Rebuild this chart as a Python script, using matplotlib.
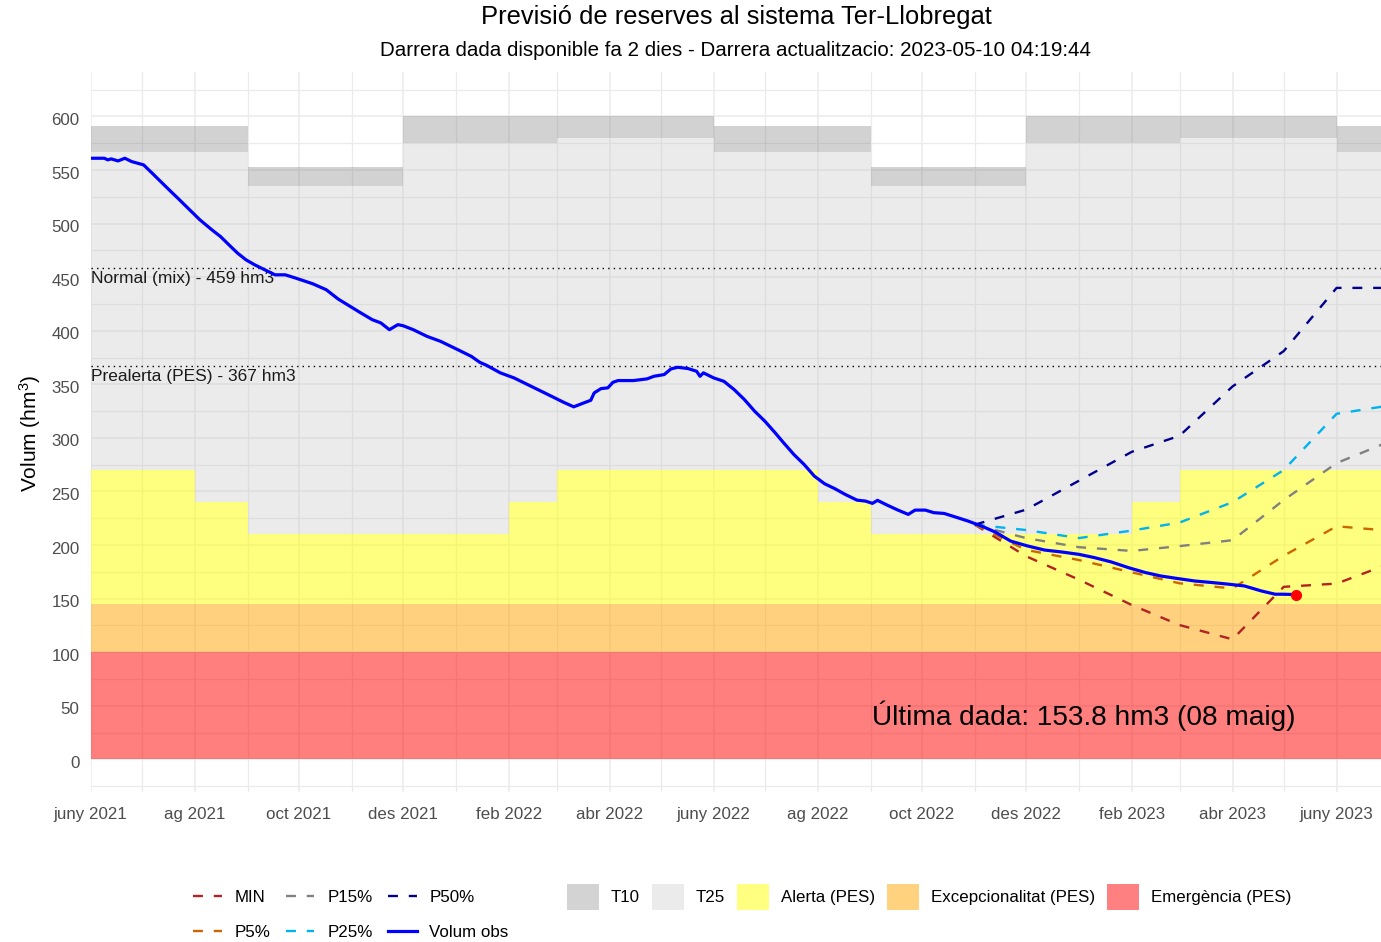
"""Previsio de reserves al sistema Ter-Llobregat (reproduccio del grafic)."""

import numpy as np
import pandas as pd
import matplotlib
matplotlib.use('Agg')
import matplotlib.pyplot as plt
from matplotlib.patches import Patch
from matplotlib.lines import Line2D
from matplotlib.ticker import MultipleLocator
from matplotlib.transforms import ScaledTranslation

plt.rcParams['font.family'] = ['Liberation Sans', 'DejaVu Sans']
plt.rcParams['mathtext.fontset'] = 'custom'
plt.rcParams['mathtext.rm'] = 'Liberation Sans'
plt.rcParams['mathtext.it'] = 'Liberation Sans'

# Observed volume (days since 2021-06-01, hm3)
obs_start = pd.Timestamp('2021-06-01')
obs_day = [0, 8, 10, 12, 16, 20, 24, 31, 36, 42, 47, 51, 57, 64, 71, 76, 81, 86, 91, 96,
           102, 108, 114, 120, 130, 138, 145, 158, 165, 170, 175, 180, 183, 189, 197, 205,
           215, 223, 228, 232, 240, 248, 258, 268, 277, 283, 289, 293, 295, 299, 303, 306,
           309, 318, 326, 330, 336, 340, 344, 350, 355, 357, 359, 365, 371, 377, 383, 389,
           395, 401, 406, 412, 418, 424, 430, 436, 442, 449, 454, 458, 461, 467, 473, 479,
           483, 489, 494, 500, 506, 514, 522, 530, 539, 549, 559, 569, 579, 588, 598, 608,
           618, 627, 637, 647, 657, 667, 676, 686, 694, 698, 706]
obs_val = [561.0, 561.0, 559.5, 560.4, 558.5, 561.0, 557.9, 554.8, 547.1, 537.7, 529.9, 523.8,
           514.4, 503.5, 494.2, 488.0, 480.2, 472.5, 466.2, 461.6, 456.9, 452.2, 452.2, 449.2,
           443.9, 438.3, 429.6, 416.9, 410.3, 407.3, 401.0, 405.7, 404.7, 401.0, 394.8, 390.1,
           382.4, 376.1, 370.5, 367.7, 360.7, 356.0, 348.2, 340.4, 333.3, 329.0, 332.7, 335.1,
           342.0, 346.0, 346.7, 351.9, 353.5, 353.5, 355.1, 357.5, 359.1, 364.4, 365.9, 364.7,
           362.2, 357.5, 360.7, 356.0, 352.8, 345.1, 335.8, 324.9, 315.6, 304.8, 295.4, 284.5,
           275.2, 264.3, 257.2, 252.6, 247.3, 241.9, 241.0, 238.9, 241.7, 237.0, 232.6, 228.6,
           232.6, 232.6, 230.2, 229.5, 226.5, 222.4, 217.7, 212.1, 203.7, 199.1, 195.3, 193.5,
           191.3, 188.3, 184.2, 178.9, 174.3, 171.1, 168.7, 166.4, 165.0, 163.4, 161.8, 157.1,
           154.1, 154.1, 153.8]

# Forecast scenarios
fc_dates = ['2022-11-01', '2022-12-01', '2023-01-01', '2023-02-01', '2023-03-01',
            '2023-04-01', '2023-05-01', '2023-06-01', '2023-07-01']
fc_min = [219, 189.6, 167.7, 144, 125.3, 112, 161, 164, 182]
fc_p5 = [219, 195.5, 186, 174.5, 164.3, 159.5, 190, 217.5, 213.5]
fc_p15 = [219, 206.5, 198, 194.5, 199, 204.5, 242, 276.5, 296]
fc_p25 = [219, 214, 206.5, 213.5, 221, 240, 270, 322.5, 330]
fc_p50 = [219, 233, 260, 287, 302, 348, 381, 440, 440]

# Monthly thresholds, Jun 2021 .. Jun 2023
alerta = [270, 270, 240, 210, 210, 210, 210, 210, 240, 270, 270, 270,
          270, 270, 240, 210, 210, 210, 210, 210, 240, 270, 270, 270, 270]
t10_low = [566.5, 566.5, 566.5, 535, 535, 535, 575.5, 575.5, 575.5, 580, 580, 580,
           566.5, 566.5, 566.5, 535, 535, 535, 575.5, 575.5, 575.5, 580, 580, 580, 566.5]
t10_high = [591.5, 591.5, 591.5, 553, 553, 553, 600.5, 600.5, 600.5, 600.5, 600.5, 600.5,
            591.5, 591.5, 591.5, 553, 553, 553, 600.5, 600.5, 600.5, 600.5, 600.5, 600.5, 591.5]
excepcionalitat = 145
emergencia = 100
normal_mix = 459
prealerta = 367

last_value = 153.8
last_date = pd.Timestamp('2023-05-08')

tick_dates = ['2021-06-01', '2021-08-01', '2021-10-01', '2021-12-01', '2022-02-01',
              '2022-04-01', '2022-06-01', '2022-08-01', '2022-10-01', '2022-12-01',
              '2023-02-01', '2023-04-01', '2023-06-01']
tick_labels = ['juny 2021', 'ag 2021', 'oct 2021', 'des 2021', 'feb 2022', 'abr 2022',
               'juny 2022', 'ag 2022', 'oct 2022', 'des 2022', 'feb 2023', 'abr 2023',
               'juny 2023']

# Figure
fig = plt.figure(figsize=(13.81, 9.42), dpi=100)
ax = fig.add_axes([90.7 / 1381, 1 - 792 / 942, 1 - 90.7 / 1381, (792 - 72) / 942])

months = pd.date_range('2021-06-01', '2023-07-01', freq='MS')
step = lambda v: list(v) + [v[-1]]

ax.fill_between(months, 0, emergencia, color='red', alpha=0.5, lw=0, zorder=1)
ax.fill_between(months, emergencia, excepcionalitat, color='orange', alpha=0.5, lw=0, zorder=1)
ax.fill_between(months, excepcionalitat, step(alerta), step='post', color='yellow', alpha=0.5, lw=0, zorder=1)
ax.fill_between(months, step(alerta), step(t10_low), step='post', color='#BEBEBE', alpha=0.3, lw=0, zorder=1)
ax.fill_between(months, step(t10_low), step(t10_high), step='post', color='#7F7F7F', alpha=0.35, lw=0, zorder=1)

# Reference levels
ax.axhline(normal_mix, color='black', ls=(0, (1, 3)), lw=1, zorder=2)
ax.axhline(prealerta, color='black', ls=(0, (1, 3)), lw=1, zorder=2)
ax.text(obs_start, normal_mix - 3, f'Normal (mix) - {normal_mix} hm3', va='top', ha='left',
        fontsize=12.5, color='#1A1A1A', zorder=3)
ax.text(obs_start, prealerta - 3, f'Prealerta (PES) - {prealerta} hm3', va='top', ha='left',
        fontsize=12.5, color='#1A1A1A', zorder=3)

# Forecasts
fc_x = pd.to_datetime(fc_dates)
dash = (0, (4.2, 4.6))
series = [('MIN', fc_min, '#B22222'), ('P5%', fc_p5, '#CD6600'), ('P15%', fc_p15, '#808080'),
          ('P25%', fc_p25, '#00B2EE'), ('P50%', fc_p50, '#00008B')]
for name, vals, col in series:
    ax.plot(fc_x, vals, color=col, ls=dash, lw=1.7, zorder=4)

obs_x = obs_start + pd.to_timedelta(obs_day, unit='D')
ax.plot(obs_x, obs_val, color='#0000FF', lw=2.3, zorder=5)
ax.plot([last_date], [last_value], 'o', color='red', ms=7, zorder=6)
ax.text(last_date, 41, f'Última dada: {last_value} hm3 (08 maig)', ha='right', va='center',
        fontsize=20.2, color='black', zorder=6)

# Axes
ax.yaxis.set_minor_locator(MultipleLocator(25))
ax.set_yticks(np.arange(0, 601, 50))
ax.set_xticks(pd.to_datetime(tick_dates))
ax.set_xticklabels(tick_labels)
ax.set_xticks(months, minor=True)
ax.set_xlim(obs_start, pd.Timestamp('2023-06-27'))
ax.set_ylim(-30.5, 641.5)
ax.grid(which='major', color='#EBEBEB', lw=1.1)
ax.grid(which='minor', color='#EBEBEB', lw=0.9)
ax.set_axisbelow(True)
for s in ax.spines.values():
    s.set_visible(False)
ax.tick_params(which='both', length=0, labelsize=12.2, labelcolor='#4D4D4D')
ax.tick_params(axis='y', pad=8)
ax.tick_params(axis='x', pad=11)
shift = ScaledTranslation(0, -2.5 / 100, fig.dpi_scale_trans)
for lab in ax.get_yticklabels():
    lab.set_transform(lab.get_transform() + shift)

fig.text(30 / 1381, 1 - 433 / 942, r'Volum (hm$^3$)', rotation=90, ha='center', va='center',
         fontsize=15, color='black')
fig.text(736 / 1381, 1 - 17 / 942, 'Previsió de reserves al sistema Ter-Llobregat',
         ha='center', va='center', fontsize=18.4)
fig.text(736 / 1381, 1 - 51 / 942,
         'Darrera dada disponible fa 2 dies - Darrera actualitzacio: 2023-05-10 04:19:44',
         ha='center', va='center', fontsize=14.8)

# Legends
line_handles = [Line2D([], [], color=c, ls=dash, lw=1.7) for _, _, c in series]
line_handles.append(Line2D([], [], color='#0000FF', lw=2.3))
line_labels = [n for n, _, _ in series] + ['Volum obs']
fig.legend(line_handles, line_labels,
           ncol=3, loc='center left', bbox_to_anchor=(193 / 1381, 1 - 915 / 942),
           frameon=False, fontsize=12.2, handlelength=1.7, handletextpad=0.75,
           columnspacing=0.9, labelspacing=1.2, borderpad=0, borderaxespad=0)

fill_handles = [Patch(facecolor='#D3D3D3', lw=0), Patch(facecolor='#EBEBEB', lw=0),
                Patch(facecolor='#FFFF80', lw=0), Patch(facecolor='#FFD280', lw=0),
                Patch(facecolor='#FF8080', lw=0)]
fill_labels = ['T10', 'T25', 'Alerta (PES)', 'Excepcionalitat (PES)', 'Emergència (PES)']
fig.legend(fill_handles, fill_labels, ncol=5, loc='center left',
           bbox_to_anchor=(567 / 1381, 1 - 897 / 942), frameon=False, fontsize=12.2,
           handlelength=1.9, handleheight=1.9, handletextpad=0.7, columnspacing=0.7,
           borderpad=0, borderaxespad=0)

fig.savefig('out.png', dpi=100)
